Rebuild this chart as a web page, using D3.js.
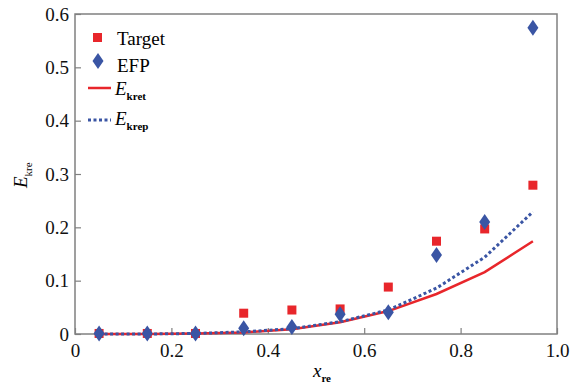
<!DOCTYPE html>
<html><head><meta charset="utf-8">
<script src="https://cdn.jsdelivr.net/npm/d3@7"></script>
<style>body{margin:0;background:#fff}svg{display:block}</style>
</head><body><svg id="c" width="582" height="388"></svg>
<script>
const xs = [0.05,0.15,0.25,0.35,0.45,0.55,0.65,0.75,0.85,0.95];
const target = [0.001,0.001,0.001,0.039,0.045,0.047,0.088,0.174,0.197,0.279];
const efp = [0.001,0.001,0.001,0.011,0.013,0.037,0.041,0.148,0.210,0.574];
const ekret = [0,0,0.001,0.003,0.009,0.022,0.043,0.075,0.116,0.174];
const ekrep = [0,0,0.001,0.004,0.010,0.023,0.045,0.086,0.144,0.229];
const xTicks = [0,0.2,0.4,0.6,0.8,1.0];
const yTicks = [0,0.1,0.2,0.3,0.4,0.5,0.6];
const RED="#e8262b", BLUE="#3a55a4";
const FONT="'Liberation Serif'";

const svg=d3.select("#c");
const L=75,R=557,T=14,B=334;
const x=d3.scaleLinear().domain([0,1]).range([L,R]);
const y=d3.scaleLinear().domain([0,0.6]).range([B,T]);

const xa=svg.append("g").attr("transform",`translate(0,${B})`)
  .call(d3.axisBottom(x).tickValues(xTicks).tickSizeInner(-6).tickSizeOuter(0).tickPadding(10)
  .tickFormat(d=>d===0?"0":d3.format(".1f")(d)));
const ya=svg.append("g").attr("transform",`translate(${L},0)`)
  .call(d3.axisLeft(y).tickValues(yTicks).tickSizeInner(-6).tickSizeOuter(0).tickPadding(6)
  .tickFormat(d=>d===0?"0":d3.format(".1f")(d)));
[xa,ya].forEach(a=>{a.select(".domain").remove();a.selectAll("line").attr("stroke","#808080").attr("stroke-width",1.2);
  a.selectAll("text").attr("font-size",19).attr("fill","#111");});
xa.selectAll("text").attr("dy","0.71em");
svg.append("rect").attr("x",L).attr("y",T).attr("width",R-L).attr("height",B-T)
  .attr("fill","none").attr("stroke","#808080").attr("stroke-width",1.5);

const line=d3.line().x((d,i)=>x(xs[i])).y(d=>y(d));
svg.append("path").datum(ekret).attr("d",line).attr("fill","none").attr("stroke",RED).attr("stroke-width",2.5);
svg.append("path").datum(ekrep).attr("d",line).attr("fill","none").attr("stroke",BLUE).attr("stroke-width",3).attr("stroke-dasharray","3,2.5");

svg.append("g").selectAll("rect").data(target).join("rect")
  .attr("x",(d,i)=>x(xs[i])-4.5).attr("y",d=>y(d)-4.5).attr("width",9).attr("height",9).attr("fill",RED);
const dia="M0,-8L5.5,0L0,8L-5.5,0Z";
svg.append("g").selectAll("path").data(efp).join("path")
  .attr("d",dia).attr("transform",(d,i)=>`translate(${x(xs[i])},${y(d)})`).attr("fill",BLUE);

const lg=svg.append("g");
lg.append("rect").attr("x",93).attr("y",33).attr("width",9).attr("height",9).attr("fill",RED);
lg.append("text").attr("x",117).attr("y",45).attr("font-size",19).text("Target");
lg.append("path").attr("d",dia).attr("transform","translate(98,61)").attr("fill",BLUE);
lg.append("text").attr("x",117).attr("y",72).attr("font-size",19).text("EFP");
lg.append("line").attr("x1",88).attr("x2",111).attr("y1",88).attr("y2",88).attr("stroke",RED).attr("stroke-width",2.5);
let t=lg.append("text").attr("x",115).attr("y",95).attr("font-size",19);
t.append("tspan").attr("font-style","italic").text("E");
t.append("tspan").attr("font-size",11).attr("font-weight","bold").attr("dy",5).text("kret");
lg.append("line").attr("x1",88).attr("x2",111).attr("y1",120).attr("y2",120).attr("stroke",BLUE).attr("stroke-width",3).attr("stroke-dasharray","3,2.5");
t=lg.append("text").attr("x",115).attr("y",125).attr("font-size",19);
t.append("tspan").attr("font-style","italic").text("E");
t.append("tspan").attr("font-size",11).attr("font-weight","bold").attr("dy",5).text("krep");

t=svg.append("text").attr("transform","translate(27,188) rotate(-90)").attr("font-size",19);
t.append("tspan").attr("font-style","italic").text("E");
t.append("tspan").attr("font-size",11).attr("dy",5).text("kre");
t=svg.append("text").attr("x",313).attr("y",377).attr("font-size",19);
t.append("tspan").attr("font-style","italic").text("x");
t.append("tspan").attr("font-size",11).attr("font-weight","bold").attr("dy",5).text("re");

svg.selectAll("g").attr("font-family",null);
svg.selectAll("text").style("font-family",FONT);
</script></body></html>
